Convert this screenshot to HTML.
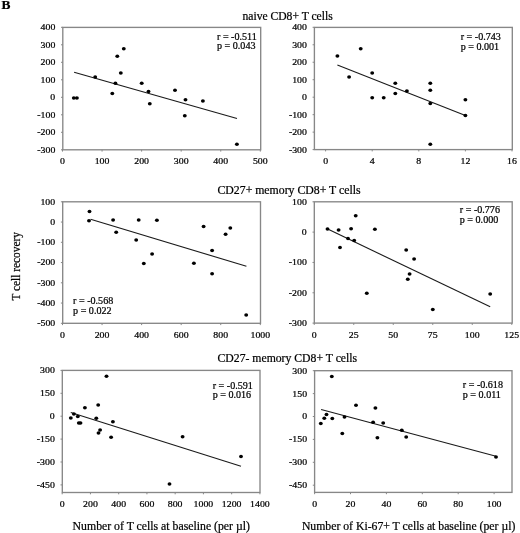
<!DOCTYPE html><html><head><meta charset="utf-8"><style>html,body{margin:0;padding:0;background:#fff;width:520px;height:533px;overflow:hidden}svg{display:block;filter:grayscale(100%)}text{font-family:"Liberation Serif",serif;fill:#000;stroke:#000;stroke-width:0.22px}</style></head><body>
<svg width="520" height="533" viewBox="0 0 520 533">
<rect width="520" height="533" fill="#fff"/>
<text x="1.5" y="9.4" font-size="13.4" font-weight="bold" stroke-width="0.32">B</text>
<text x="242.5" y="19.8" font-size="11.6" stroke-width="0.32">naive CD8+ T cells</text>
<text x="217.5" y="194" font-size="11.6" textLength="143.01" lengthAdjust="spacingAndGlyphs" stroke-width="0.32">CD27+ memory CD8+ T cells</text>
<text x="217.5" y="362" font-size="11.6" textLength="139.60" lengthAdjust="spacingAndGlyphs" stroke-width="0.32">CD27- memory CD8+ T cells</text>
<text x="0" y="0" font-size="11.6" textLength="68.59" lengthAdjust="spacingAndGlyphs" stroke-width="0.32" transform="translate(20.3,300.6) rotate(-90)">T cell recovery</text>
<text x="72.6" y="529.8" font-size="11.6" textLength="177.34" lengthAdjust="spacingAndGlyphs" stroke-width="0.32">Number of T cells at baseline (per µl)</text>
<text x="301.9" y="529.8" font-size="11.6" textLength="213.44" lengthAdjust="spacingAndGlyphs" stroke-width="0.32">Number of Ki-67+ T cells at baseline (per µl)</text>
<rect x="62.8" y="27.4" width="197.9" height="122.4" fill="none" stroke="#878787" stroke-width="1.35"/>
<line x1="61" y1="27.3" x2="62.8" y2="27.3" stroke="#878787" stroke-width="1"/>
<text x="55.3" y="30.2" font-size="9.0" textLength="14.72" lengthAdjust="spacingAndGlyphs" text-anchor="end" stroke-width="0.24">400</text>
<line x1="61" y1="44.8" x2="62.8" y2="44.8" stroke="#878787" stroke-width="1"/>
<text x="55.3" y="47.7" font-size="9.0" textLength="14.72" lengthAdjust="spacingAndGlyphs" text-anchor="end" stroke-width="0.24">300</text>
<line x1="61" y1="62.3" x2="62.8" y2="62.3" stroke="#878787" stroke-width="1"/>
<text x="55.3" y="65.2" font-size="9.0" textLength="14.72" lengthAdjust="spacingAndGlyphs" text-anchor="end" stroke-width="0.24">200</text>
<line x1="61" y1="79.8" x2="62.8" y2="79.8" stroke="#878787" stroke-width="1"/>
<text x="55.3" y="82.7" font-size="9.0" textLength="14.72" lengthAdjust="spacingAndGlyphs" text-anchor="end" stroke-width="0.24">100</text>
<line x1="61" y1="97.3" x2="62.8" y2="97.3" stroke="#878787" stroke-width="1"/>
<text x="55.3" y="100.2" font-size="9.0" textLength="4.91" lengthAdjust="spacingAndGlyphs" text-anchor="end" stroke-width="0.24">0</text>
<line x1="61" y1="114.8" x2="62.8" y2="114.8" stroke="#878787" stroke-width="1"/>
<text x="55.3" y="117.7" font-size="9.0" textLength="17.98" lengthAdjust="spacingAndGlyphs" text-anchor="end" stroke-width="0.24">-100</text>
<line x1="61" y1="132.3" x2="62.8" y2="132.3" stroke="#878787" stroke-width="1"/>
<text x="55.3" y="135.2" font-size="9.0" textLength="17.98" lengthAdjust="spacingAndGlyphs" text-anchor="end" stroke-width="0.24">-200</text>
<line x1="61" y1="149.8" x2="62.8" y2="149.8" stroke="#878787" stroke-width="1"/>
<text x="55.3" y="152.7" font-size="9.0" textLength="17.98" lengthAdjust="spacingAndGlyphs" text-anchor="end" stroke-width="0.24">-300</text>
<line x1="62.5" y1="149.8" x2="62.5" y2="151.6" stroke="#878787" stroke-width="1"/>
<text x="62.5" y="164.4" font-size="9.0" textLength="4.91" lengthAdjust="spacingAndGlyphs" text-anchor="middle" stroke-width="0.24">0</text>
<line x1="102.06" y1="149.8" x2="102.06" y2="151.6" stroke="#878787" stroke-width="1"/>
<text x="102.06" y="164.4" font-size="9.0" textLength="14.72" lengthAdjust="spacingAndGlyphs" text-anchor="middle" stroke-width="0.24">100</text>
<line x1="141.62" y1="149.8" x2="141.62" y2="151.6" stroke="#878787" stroke-width="1"/>
<text x="141.62" y="164.4" font-size="9.0" textLength="14.72" lengthAdjust="spacingAndGlyphs" text-anchor="middle" stroke-width="0.24">200</text>
<line x1="181.18" y1="149.8" x2="181.18" y2="151.6" stroke="#878787" stroke-width="1"/>
<text x="181.18" y="164.4" font-size="9.0" textLength="14.72" lengthAdjust="spacingAndGlyphs" text-anchor="middle" stroke-width="0.24">300</text>
<line x1="220.74" y1="149.8" x2="220.74" y2="151.6" stroke="#878787" stroke-width="1"/>
<text x="220.74" y="164.4" font-size="9.0" textLength="14.72" lengthAdjust="spacingAndGlyphs" text-anchor="middle" stroke-width="0.24">400</text>
<line x1="260.3" y1="149.8" x2="260.3" y2="151.6" stroke="#878787" stroke-width="1"/>
<text x="260.3" y="164.4" font-size="9.0" textLength="14.72" lengthAdjust="spacingAndGlyphs" text-anchor="middle" stroke-width="0.24">500</text>
<line x1="74.1" y1="72.2" x2="237" y2="118.5" stroke="#1a1a1a" stroke-width="1.1"/>
<ellipse cx="73.8" cy="98" rx="1.95" ry="1.75" fill="#000"/>
<ellipse cx="76.9" cy="98" rx="1.95" ry="1.75" fill="#000"/>
<ellipse cx="95.2" cy="77" rx="1.95" ry="1.75" fill="#000"/>
<ellipse cx="112.3" cy="93.5" rx="1.95" ry="1.75" fill="#000"/>
<ellipse cx="115.4" cy="83.3" rx="1.95" ry="1.75" fill="#000"/>
<ellipse cx="117.3" cy="56.2" rx="1.95" ry="1.75" fill="#000"/>
<ellipse cx="120.8" cy="73.1" rx="1.95" ry="1.75" fill="#000"/>
<ellipse cx="123.8" cy="48.8" rx="1.95" ry="1.75" fill="#000"/>
<ellipse cx="141.7" cy="83.3" rx="1.95" ry="1.75" fill="#000"/>
<ellipse cx="148.5" cy="91.5" rx="1.95" ry="1.75" fill="#000"/>
<ellipse cx="149.8" cy="103.8" rx="1.95" ry="1.75" fill="#000"/>
<ellipse cx="175" cy="90.3" rx="1.95" ry="1.75" fill="#000"/>
<ellipse cx="185.5" cy="99.8" rx="1.95" ry="1.75" fill="#000"/>
<ellipse cx="184.8" cy="115.8" rx="1.95" ry="1.75" fill="#000"/>
<ellipse cx="202.9" cy="101" rx="1.95" ry="1.75" fill="#000"/>
<ellipse cx="236.9" cy="144.3" rx="1.95" ry="1.75" fill="#000"/>
<text x="217" y="39.7" font-size="9.7" textLength="39.78" lengthAdjust="spacingAndGlyphs" stroke-width="0.24">r = -0.511</text>
<text x="217" y="49.3" font-size="9.7" textLength="38.48" lengthAdjust="spacingAndGlyphs" stroke-width="0.24">p = 0.043</text>
<rect x="314.4" y="27.4" width="197.9" height="122.2" fill="none" stroke="#878787" stroke-width="1.35"/>
<line x1="312.6" y1="27.3" x2="314.4" y2="27.3" stroke="#878787" stroke-width="1"/>
<text x="306.9" y="30.2" font-size="9.0" textLength="14.72" lengthAdjust="spacingAndGlyphs" text-anchor="end" stroke-width="0.24">400</text>
<line x1="312.6" y1="44.77" x2="314.4" y2="44.77" stroke="#878787" stroke-width="1"/>
<text x="306.9" y="47.67" font-size="9.0" textLength="14.72" lengthAdjust="spacingAndGlyphs" text-anchor="end" stroke-width="0.24">300</text>
<line x1="312.6" y1="62.24" x2="314.4" y2="62.24" stroke="#878787" stroke-width="1"/>
<text x="306.9" y="65.14" font-size="9.0" textLength="14.72" lengthAdjust="spacingAndGlyphs" text-anchor="end" stroke-width="0.24">200</text>
<line x1="312.6" y1="79.71" x2="314.4" y2="79.71" stroke="#878787" stroke-width="1"/>
<text x="306.9" y="82.61" font-size="9.0" textLength="14.72" lengthAdjust="spacingAndGlyphs" text-anchor="end" stroke-width="0.24">100</text>
<line x1="312.6" y1="97.19" x2="314.4" y2="97.19" stroke="#878787" stroke-width="1"/>
<text x="306.9" y="100.09" font-size="9.0" textLength="4.91" lengthAdjust="spacingAndGlyphs" text-anchor="end" stroke-width="0.24">0</text>
<line x1="312.6" y1="114.66" x2="314.4" y2="114.66" stroke="#878787" stroke-width="1"/>
<text x="306.9" y="117.56" font-size="9.0" textLength="17.98" lengthAdjust="spacingAndGlyphs" text-anchor="end" stroke-width="0.24">-100</text>
<line x1="312.6" y1="132.13" x2="314.4" y2="132.13" stroke="#878787" stroke-width="1"/>
<text x="306.9" y="135.03" font-size="9.0" textLength="17.98" lengthAdjust="spacingAndGlyphs" text-anchor="end" stroke-width="0.24">-200</text>
<line x1="312.6" y1="149.6" x2="314.4" y2="149.6" stroke="#878787" stroke-width="1"/>
<text x="306.9" y="152.5" font-size="9.0" textLength="17.98" lengthAdjust="spacingAndGlyphs" text-anchor="end" stroke-width="0.24">-300</text>
<line x1="325.6" y1="149.6" x2="325.6" y2="151.4" stroke="#878787" stroke-width="1"/>
<text x="325.6" y="164.2" font-size="9.0" textLength="4.91" lengthAdjust="spacingAndGlyphs" text-anchor="middle" stroke-width="0.24">0</text>
<line x1="372.2" y1="149.6" x2="372.2" y2="151.4" stroke="#878787" stroke-width="1"/>
<text x="372.2" y="164.2" font-size="9.0" textLength="4.91" lengthAdjust="spacingAndGlyphs" text-anchor="middle" stroke-width="0.24">4</text>
<line x1="418.8" y1="149.6" x2="418.8" y2="151.4" stroke="#878787" stroke-width="1"/>
<text x="418.8" y="164.2" font-size="9.0" textLength="4.91" lengthAdjust="spacingAndGlyphs" text-anchor="middle" stroke-width="0.24">8</text>
<line x1="465.4" y1="149.6" x2="465.4" y2="151.4" stroke="#878787" stroke-width="1"/>
<text x="465.4" y="164.2" font-size="9.0" textLength="9.81" lengthAdjust="spacingAndGlyphs" text-anchor="middle" stroke-width="0.24">12</text>
<line x1="512" y1="149.6" x2="512" y2="151.4" stroke="#878787" stroke-width="1"/>
<text x="512" y="164.2" font-size="9.0" textLength="9.81" lengthAdjust="spacingAndGlyphs" text-anchor="middle" stroke-width="0.24">16</text>
<line x1="337.4" y1="65" x2="465.4" y2="115.5" stroke="#1a1a1a" stroke-width="1.1"/>
<ellipse cx="337.4" cy="56" rx="1.95" ry="1.75" fill="#000"/>
<ellipse cx="349.1" cy="76.9" rx="1.95" ry="1.75" fill="#000"/>
<ellipse cx="360.7" cy="48.7" rx="1.95" ry="1.75" fill="#000"/>
<ellipse cx="372.2" cy="73.1" rx="1.95" ry="1.75" fill="#000"/>
<ellipse cx="372.2" cy="97.7" rx="1.95" ry="1.75" fill="#000"/>
<ellipse cx="383.7" cy="97.7" rx="1.95" ry="1.75" fill="#000"/>
<ellipse cx="395.3" cy="83.3" rx="1.95" ry="1.75" fill="#000"/>
<ellipse cx="395.3" cy="93.5" rx="1.95" ry="1.75" fill="#000"/>
<ellipse cx="406.9" cy="91.1" rx="1.95" ry="1.75" fill="#000"/>
<ellipse cx="430.3" cy="83.2" rx="1.95" ry="1.75" fill="#000"/>
<ellipse cx="430.3" cy="90.3" rx="1.95" ry="1.75" fill="#000"/>
<ellipse cx="430.3" cy="103.5" rx="1.95" ry="1.75" fill="#000"/>
<ellipse cx="430.3" cy="144.3" rx="1.95" ry="1.75" fill="#000"/>
<ellipse cx="465.4" cy="99.7" rx="1.95" ry="1.75" fill="#000"/>
<ellipse cx="465.4" cy="115.5" rx="1.95" ry="1.75" fill="#000"/>
<text x="460.7" y="39.9" font-size="9.7" textLength="40.15" lengthAdjust="spacingAndGlyphs" stroke-width="0.24">r = -0.743</text>
<text x="460.7" y="50.2" font-size="9.7" textLength="38.48" lengthAdjust="spacingAndGlyphs" stroke-width="0.24">p = 0.001</text>
<rect x="62.7" y="201.8" width="197.8" height="121.5" fill="none" stroke="#878787" stroke-width="1.35"/>
<line x1="60.9" y1="201.8" x2="62.7" y2="201.8" stroke="#878787" stroke-width="1"/>
<text x="55.2" y="204.7" font-size="9.0" textLength="14.72" lengthAdjust="spacingAndGlyphs" text-anchor="end" stroke-width="0.24">100</text>
<line x1="60.9" y1="222.05" x2="62.7" y2="222.05" stroke="#878787" stroke-width="1"/>
<text x="55.2" y="224.95" font-size="9.0" textLength="4.91" lengthAdjust="spacingAndGlyphs" text-anchor="end" stroke-width="0.24">0</text>
<line x1="60.9" y1="242.3" x2="62.7" y2="242.3" stroke="#878787" stroke-width="1"/>
<text x="55.2" y="245.2" font-size="9.0" textLength="17.98" lengthAdjust="spacingAndGlyphs" text-anchor="end" stroke-width="0.24">-100</text>
<line x1="60.9" y1="262.55" x2="62.7" y2="262.55" stroke="#878787" stroke-width="1"/>
<text x="55.2" y="265.45" font-size="9.0" textLength="17.98" lengthAdjust="spacingAndGlyphs" text-anchor="end" stroke-width="0.24">-200</text>
<line x1="60.9" y1="282.8" x2="62.7" y2="282.8" stroke="#878787" stroke-width="1"/>
<text x="55.2" y="285.7" font-size="9.0" textLength="17.98" lengthAdjust="spacingAndGlyphs" text-anchor="end" stroke-width="0.24">-300</text>
<line x1="60.9" y1="303.05" x2="62.7" y2="303.05" stroke="#878787" stroke-width="1"/>
<text x="55.2" y="305.95" font-size="9.0" textLength="17.98" lengthAdjust="spacingAndGlyphs" text-anchor="end" stroke-width="0.24">-400</text>
<line x1="60.9" y1="323.3" x2="62.7" y2="323.3" stroke="#878787" stroke-width="1"/>
<text x="55.2" y="326.2" font-size="9.0" textLength="17.98" lengthAdjust="spacingAndGlyphs" text-anchor="end" stroke-width="0.24">-500</text>
<line x1="62.5" y1="323.3" x2="62.5" y2="325.1" stroke="#878787" stroke-width="1"/>
<text x="62.5" y="337.9" font-size="9.0" textLength="4.91" lengthAdjust="spacingAndGlyphs" text-anchor="middle" stroke-width="0.24">0</text>
<line x1="102.06" y1="323.3" x2="102.06" y2="325.1" stroke="#878787" stroke-width="1"/>
<text x="102.06" y="337.9" font-size="9.0" textLength="14.72" lengthAdjust="spacingAndGlyphs" text-anchor="middle" stroke-width="0.24">200</text>
<line x1="141.62" y1="323.3" x2="141.62" y2="325.1" stroke="#878787" stroke-width="1"/>
<text x="141.62" y="337.9" font-size="9.0" textLength="14.72" lengthAdjust="spacingAndGlyphs" text-anchor="middle" stroke-width="0.24">400</text>
<line x1="181.18" y1="323.3" x2="181.18" y2="325.1" stroke="#878787" stroke-width="1"/>
<text x="181.18" y="337.9" font-size="9.0" textLength="14.72" lengthAdjust="spacingAndGlyphs" text-anchor="middle" stroke-width="0.24">600</text>
<line x1="220.74" y1="323.3" x2="220.74" y2="325.1" stroke="#878787" stroke-width="1"/>
<text x="220.74" y="337.9" font-size="9.0" textLength="14.72" lengthAdjust="spacingAndGlyphs" text-anchor="middle" stroke-width="0.24">800</text>
<line x1="260.3" y1="323.3" x2="260.3" y2="325.1" stroke="#878787" stroke-width="1"/>
<text x="260.3" y="337.9" font-size="9.0" textLength="19.62" lengthAdjust="spacingAndGlyphs" text-anchor="middle" stroke-width="0.24">1000</text>
<line x1="90.6" y1="219.2" x2="246.4" y2="266.3" stroke="#1a1a1a" stroke-width="1.1"/>
<ellipse cx="89.5" cy="211.5" rx="1.95" ry="1.75" fill="#000"/>
<ellipse cx="89" cy="220.8" rx="1.95" ry="1.75" fill="#000"/>
<ellipse cx="113.1" cy="220" rx="1.95" ry="1.75" fill="#000"/>
<ellipse cx="116.2" cy="232.3" rx="1.95" ry="1.75" fill="#000"/>
<ellipse cx="136.2" cy="240" rx="1.95" ry="1.75" fill="#000"/>
<ellipse cx="138.7" cy="220" rx="1.95" ry="1.75" fill="#000"/>
<ellipse cx="143.8" cy="263.5" rx="1.95" ry="1.75" fill="#000"/>
<ellipse cx="152.1" cy="254" rx="1.95" ry="1.75" fill="#000"/>
<ellipse cx="156.9" cy="220.2" rx="1.95" ry="1.75" fill="#000"/>
<ellipse cx="193.9" cy="263.2" rx="1.95" ry="1.75" fill="#000"/>
<ellipse cx="203.6" cy="226.5" rx="1.95" ry="1.75" fill="#000"/>
<ellipse cx="212.1" cy="250.4" rx="1.95" ry="1.75" fill="#000"/>
<ellipse cx="212.1" cy="273.8" rx="1.95" ry="1.75" fill="#000"/>
<ellipse cx="225.6" cy="234.3" rx="1.95" ry="1.75" fill="#000"/>
<ellipse cx="230.3" cy="227.9" rx="1.95" ry="1.75" fill="#000"/>
<ellipse cx="246.2" cy="315.1" rx="1.95" ry="1.75" fill="#000"/>
<text x="73.1" y="303.9" font-size="9.7" textLength="40.15" lengthAdjust="spacingAndGlyphs" stroke-width="0.24">r = -0.568</text>
<text x="73.1" y="314.3" font-size="9.7" textLength="38.48" lengthAdjust="spacingAndGlyphs" stroke-width="0.24">p = 0.022</text>
<rect x="314.3" y="201.8" width="197.9" height="121.3" fill="none" stroke="#878787" stroke-width="1.35"/>
<line x1="312.5" y1="201.8" x2="314.3" y2="201.8" stroke="#878787" stroke-width="1"/>
<text x="306.8" y="204.7" font-size="9.0" textLength="14.72" lengthAdjust="spacingAndGlyphs" text-anchor="end" stroke-width="0.24">100</text>
<line x1="312.5" y1="232.12" x2="314.3" y2="232.12" stroke="#878787" stroke-width="1"/>
<text x="306.8" y="235.03" font-size="9.0" textLength="4.91" lengthAdjust="spacingAndGlyphs" text-anchor="end" stroke-width="0.24">0</text>
<line x1="312.5" y1="262.45" x2="314.3" y2="262.45" stroke="#878787" stroke-width="1"/>
<text x="306.8" y="265.35" font-size="9.0" textLength="17.98" lengthAdjust="spacingAndGlyphs" text-anchor="end" stroke-width="0.24">-100</text>
<line x1="312.5" y1="292.78" x2="314.3" y2="292.78" stroke="#878787" stroke-width="1"/>
<text x="306.8" y="295.68" font-size="9.0" textLength="17.98" lengthAdjust="spacingAndGlyphs" text-anchor="end" stroke-width="0.24">-200</text>
<line x1="312.5" y1="323.1" x2="314.3" y2="323.1" stroke="#878787" stroke-width="1"/>
<text x="306.8" y="326" font-size="9.0" textLength="17.98" lengthAdjust="spacingAndGlyphs" text-anchor="end" stroke-width="0.24">-300</text>
<line x1="314.25" y1="323.1" x2="314.25" y2="324.9" stroke="#878787" stroke-width="1"/>
<text x="314.25" y="337.7" font-size="9.0" textLength="4.91" lengthAdjust="spacingAndGlyphs" text-anchor="middle" stroke-width="0.24">0</text>
<line x1="353.75" y1="323.1" x2="353.75" y2="324.9" stroke="#878787" stroke-width="1"/>
<text x="353.75" y="337.7" font-size="9.0" textLength="9.81" lengthAdjust="spacingAndGlyphs" text-anchor="middle" stroke-width="0.24">25</text>
<line x1="393.25" y1="323.1" x2="393.25" y2="324.9" stroke="#878787" stroke-width="1"/>
<text x="393.25" y="337.7" font-size="9.0" textLength="9.81" lengthAdjust="spacingAndGlyphs" text-anchor="middle" stroke-width="0.24">50</text>
<line x1="432.75" y1="323.1" x2="432.75" y2="324.9" stroke="#878787" stroke-width="1"/>
<text x="432.75" y="337.7" font-size="9.0" textLength="9.81" lengthAdjust="spacingAndGlyphs" text-anchor="middle" stroke-width="0.24">75</text>
<line x1="472.25" y1="323.1" x2="472.25" y2="324.9" stroke="#878787" stroke-width="1"/>
<text x="472.25" y="337.7" font-size="9.0" textLength="14.72" lengthAdjust="spacingAndGlyphs" text-anchor="middle" stroke-width="0.24">100</text>
<line x1="511.75" y1="323.1" x2="511.75" y2="324.9" stroke="#878787" stroke-width="1"/>
<text x="511.75" y="337.7" font-size="9.0" textLength="14.72" lengthAdjust="spacingAndGlyphs" text-anchor="middle" stroke-width="0.24">125</text>
<line x1="327.7" y1="229.1" x2="490.2" y2="306.8" stroke="#1a1a1a" stroke-width="1.1"/>
<ellipse cx="327.5" cy="229.1" rx="1.95" ry="1.75" fill="#000"/>
<ellipse cx="338.6" cy="230" rx="1.95" ry="1.75" fill="#000"/>
<ellipse cx="351.1" cy="228.8" rx="1.95" ry="1.75" fill="#000"/>
<ellipse cx="355.7" cy="215.8" rx="1.95" ry="1.75" fill="#000"/>
<ellipse cx="348" cy="238.5" rx="1.95" ry="1.75" fill="#000"/>
<ellipse cx="354.2" cy="240.5" rx="1.95" ry="1.75" fill="#000"/>
<ellipse cx="340" cy="247.6" rx="1.95" ry="1.75" fill="#000"/>
<ellipse cx="374.9" cy="229.3" rx="1.95" ry="1.75" fill="#000"/>
<ellipse cx="406.2" cy="250" rx="1.95" ry="1.75" fill="#000"/>
<ellipse cx="414.1" cy="259" rx="1.95" ry="1.75" fill="#000"/>
<ellipse cx="409.6" cy="273.9" rx="1.95" ry="1.75" fill="#000"/>
<ellipse cx="407.8" cy="279.3" rx="1.95" ry="1.75" fill="#000"/>
<ellipse cx="366.8" cy="293.2" rx="1.95" ry="1.75" fill="#000"/>
<ellipse cx="432.8" cy="309.4" rx="1.95" ry="1.75" fill="#000"/>
<ellipse cx="490.2" cy="294.1" rx="1.95" ry="1.75" fill="#000"/>
<text x="459.8" y="212.6" font-size="9.7" textLength="40.15" lengthAdjust="spacingAndGlyphs" stroke-width="0.24">r = -0.776</text>
<text x="459.8" y="223.3" font-size="9.7" textLength="38.48" lengthAdjust="spacingAndGlyphs" stroke-width="0.24">p = 0.000</text>
<rect x="62.3" y="370.4" width="197.7" height="122.1" fill="none" stroke="#878787" stroke-width="1.35"/>
<line x1="60.5" y1="370.4" x2="62.3" y2="370.4" stroke="#878787" stroke-width="1"/>
<text x="54.8" y="373.3" font-size="9.0" textLength="14.72" lengthAdjust="spacingAndGlyphs" text-anchor="end" stroke-width="0.24">300</text>
<line x1="60.5" y1="393.3" x2="62.3" y2="393.3" stroke="#878787" stroke-width="1"/>
<text x="54.8" y="396.2" font-size="9.0" textLength="14.72" lengthAdjust="spacingAndGlyphs" text-anchor="end" stroke-width="0.24">150</text>
<line x1="60.5" y1="416.2" x2="62.3" y2="416.2" stroke="#878787" stroke-width="1"/>
<text x="54.8" y="419.1" font-size="9.0" textLength="4.91" lengthAdjust="spacingAndGlyphs" text-anchor="end" stroke-width="0.24">0</text>
<line x1="60.5" y1="439.1" x2="62.3" y2="439.1" stroke="#878787" stroke-width="1"/>
<text x="54.8" y="442" font-size="9.0" textLength="17.98" lengthAdjust="spacingAndGlyphs" text-anchor="end" stroke-width="0.24">-150</text>
<line x1="60.5" y1="462" x2="62.3" y2="462" stroke="#878787" stroke-width="1"/>
<text x="54.8" y="464.9" font-size="9.0" textLength="17.98" lengthAdjust="spacingAndGlyphs" text-anchor="end" stroke-width="0.24">-300</text>
<line x1="60.5" y1="484.9" x2="62.3" y2="484.9" stroke="#878787" stroke-width="1"/>
<text x="54.8" y="487.8" font-size="9.0" textLength="17.98" lengthAdjust="spacingAndGlyphs" text-anchor="end" stroke-width="0.24">-450</text>
<line x1="62.2" y1="492.5" x2="62.2" y2="494.3" stroke="#878787" stroke-width="1"/>
<text x="62.2" y="507.1" font-size="9.0" textLength="4.91" lengthAdjust="spacingAndGlyphs" text-anchor="middle" stroke-width="0.24">0</text>
<line x1="90.44" y1="492.5" x2="90.44" y2="494.3" stroke="#878787" stroke-width="1"/>
<text x="90.44" y="507.1" font-size="9.0" textLength="14.72" lengthAdjust="spacingAndGlyphs" text-anchor="middle" stroke-width="0.24">200</text>
<line x1="118.69" y1="492.5" x2="118.69" y2="494.3" stroke="#878787" stroke-width="1"/>
<text x="118.69" y="507.1" font-size="9.0" textLength="14.72" lengthAdjust="spacingAndGlyphs" text-anchor="middle" stroke-width="0.24">400</text>
<line x1="146.93" y1="492.5" x2="146.93" y2="494.3" stroke="#878787" stroke-width="1"/>
<text x="146.93" y="507.1" font-size="9.0" textLength="14.72" lengthAdjust="spacingAndGlyphs" text-anchor="middle" stroke-width="0.24">600</text>
<line x1="175.17" y1="492.5" x2="175.17" y2="494.3" stroke="#878787" stroke-width="1"/>
<text x="175.17" y="507.1" font-size="9.0" textLength="14.72" lengthAdjust="spacingAndGlyphs" text-anchor="middle" stroke-width="0.24">800</text>
<line x1="203.41" y1="492.5" x2="203.41" y2="494.3" stroke="#878787" stroke-width="1"/>
<text x="203.41" y="507.1" font-size="9.0" textLength="19.62" lengthAdjust="spacingAndGlyphs" text-anchor="middle" stroke-width="0.24">1000</text>
<line x1="231.66" y1="492.5" x2="231.66" y2="494.3" stroke="#878787" stroke-width="1"/>
<text x="231.66" y="507.1" font-size="9.0" textLength="19.62" lengthAdjust="spacingAndGlyphs" text-anchor="middle" stroke-width="0.24">1200</text>
<line x1="259.9" y1="492.5" x2="259.9" y2="494.3" stroke="#878787" stroke-width="1"/>
<text x="259.9" y="507.1" font-size="9.0" textLength="19.62" lengthAdjust="spacingAndGlyphs" text-anchor="middle" stroke-width="0.24">1400</text>
<line x1="70.8" y1="412.4" x2="241" y2="466.2" stroke="#1a1a1a" stroke-width="1.1"/>
<ellipse cx="70.8" cy="417.9" rx="1.95" ry="1.75" fill="#000"/>
<ellipse cx="73.9" cy="414.1" rx="1.95" ry="1.75" fill="#000"/>
<ellipse cx="77.8" cy="416.4" rx="1.95" ry="1.75" fill="#000"/>
<ellipse cx="78.8" cy="423.1" rx="1.95" ry="1.75" fill="#000"/>
<ellipse cx="80.5" cy="422.9" rx="1.95" ry="1.75" fill="#000"/>
<ellipse cx="84.9" cy="407.8" rx="1.95" ry="1.75" fill="#000"/>
<ellipse cx="96.3" cy="418.2" rx="1.95" ry="1.75" fill="#000"/>
<ellipse cx="98.2" cy="405" rx="1.95" ry="1.75" fill="#000"/>
<ellipse cx="106.5" cy="376.2" rx="1.95" ry="1.75" fill="#000"/>
<ellipse cx="112.9" cy="421.8" rx="1.95" ry="1.75" fill="#000"/>
<ellipse cx="100.1" cy="429.9" rx="1.95" ry="1.75" fill="#000"/>
<ellipse cx="98.5" cy="433" rx="1.95" ry="1.75" fill="#000"/>
<ellipse cx="111.1" cy="437.3" rx="1.95" ry="1.75" fill="#000"/>
<ellipse cx="182.6" cy="436.7" rx="1.95" ry="1.75" fill="#000"/>
<ellipse cx="169.5" cy="484" rx="1.95" ry="1.75" fill="#000"/>
<ellipse cx="241" cy="456.6" rx="1.95" ry="1.75" fill="#000"/>
<text x="212.7" y="388.9" font-size="9.7" textLength="40.15" lengthAdjust="spacingAndGlyphs" stroke-width="0.24">r = -0.591</text>
<text x="212.7" y="398.4" font-size="9.7" textLength="38.48" lengthAdjust="spacingAndGlyphs" stroke-width="0.24">p = 0.016</text>
<rect x="314.6" y="370.7" width="197.4" height="121.7" fill="none" stroke="#878787" stroke-width="1.35"/>
<line x1="312.8" y1="370.7" x2="314.6" y2="370.7" stroke="#878787" stroke-width="1"/>
<text x="307.1" y="373.6" font-size="9.0" textLength="14.72" lengthAdjust="spacingAndGlyphs" text-anchor="end" stroke-width="0.24">300</text>
<line x1="312.8" y1="393.6" x2="314.6" y2="393.6" stroke="#878787" stroke-width="1"/>
<text x="307.1" y="396.5" font-size="9.0" textLength="14.72" lengthAdjust="spacingAndGlyphs" text-anchor="end" stroke-width="0.24">150</text>
<line x1="312.8" y1="416.5" x2="314.6" y2="416.5" stroke="#878787" stroke-width="1"/>
<text x="307.1" y="419.4" font-size="9.0" textLength="4.91" lengthAdjust="spacingAndGlyphs" text-anchor="end" stroke-width="0.24">0</text>
<line x1="312.8" y1="439.4" x2="314.6" y2="439.4" stroke="#878787" stroke-width="1"/>
<text x="307.1" y="442.3" font-size="9.0" textLength="17.98" lengthAdjust="spacingAndGlyphs" text-anchor="end" stroke-width="0.24">-150</text>
<line x1="312.8" y1="462.3" x2="314.6" y2="462.3" stroke="#878787" stroke-width="1"/>
<text x="307.1" y="465.2" font-size="9.0" textLength="17.98" lengthAdjust="spacingAndGlyphs" text-anchor="end" stroke-width="0.24">-300</text>
<line x1="312.8" y1="485.2" x2="314.6" y2="485.2" stroke="#878787" stroke-width="1"/>
<text x="307.1" y="488.1" font-size="9.0" textLength="17.98" lengthAdjust="spacingAndGlyphs" text-anchor="end" stroke-width="0.24">-450</text>
<line x1="314.6" y1="492.4" x2="314.6" y2="494.2" stroke="#878787" stroke-width="1"/>
<text x="314.6" y="507" font-size="9.0" textLength="4.91" lengthAdjust="spacingAndGlyphs" text-anchor="middle" stroke-width="0.24">0</text>
<line x1="350.5" y1="492.4" x2="350.5" y2="494.2" stroke="#878787" stroke-width="1"/>
<text x="350.5" y="507" font-size="9.0" textLength="9.81" lengthAdjust="spacingAndGlyphs" text-anchor="middle" stroke-width="0.24">20</text>
<line x1="386.4" y1="492.4" x2="386.4" y2="494.2" stroke="#878787" stroke-width="1"/>
<text x="386.4" y="507" font-size="9.0" textLength="9.81" lengthAdjust="spacingAndGlyphs" text-anchor="middle" stroke-width="0.24">40</text>
<line x1="422.3" y1="492.4" x2="422.3" y2="494.2" stroke="#878787" stroke-width="1"/>
<text x="422.3" y="507" font-size="9.0" textLength="9.81" lengthAdjust="spacingAndGlyphs" text-anchor="middle" stroke-width="0.24">60</text>
<line x1="458.2" y1="492.4" x2="458.2" y2="494.2" stroke="#878787" stroke-width="1"/>
<text x="458.2" y="507" font-size="9.0" textLength="9.81" lengthAdjust="spacingAndGlyphs" text-anchor="middle" stroke-width="0.24">80</text>
<line x1="494.1" y1="492.4" x2="494.1" y2="494.2" stroke="#878787" stroke-width="1"/>
<text x="494.1" y="507" font-size="9.0" textLength="14.72" lengthAdjust="spacingAndGlyphs" text-anchor="middle" stroke-width="0.24">100</text>
<line x1="321.1" y1="409.5" x2="496" y2="456.3" stroke="#1a1a1a" stroke-width="1.1"/>
<ellipse cx="320.8" cy="423.4" rx="1.95" ry="1.75" fill="#000"/>
<ellipse cx="324.3" cy="418.3" rx="1.95" ry="1.75" fill="#000"/>
<ellipse cx="326.5" cy="414.6" rx="1.95" ry="1.75" fill="#000"/>
<ellipse cx="331.8" cy="376.5" rx="1.95" ry="1.75" fill="#000"/>
<ellipse cx="332.3" cy="418.5" rx="1.95" ry="1.75" fill="#000"/>
<ellipse cx="342.3" cy="433.4" rx="1.95" ry="1.75" fill="#000"/>
<ellipse cx="344.5" cy="417.1" rx="1.95" ry="1.75" fill="#000"/>
<ellipse cx="356" cy="405.2" rx="1.95" ry="1.75" fill="#000"/>
<ellipse cx="373.1" cy="422.2" rx="1.95" ry="1.75" fill="#000"/>
<ellipse cx="375.4" cy="408" rx="1.95" ry="1.75" fill="#000"/>
<ellipse cx="377.4" cy="437.8" rx="1.95" ry="1.75" fill="#000"/>
<ellipse cx="383.2" cy="422.9" rx="1.95" ry="1.75" fill="#000"/>
<ellipse cx="401.8" cy="430.3" rx="1.95" ry="1.75" fill="#000"/>
<ellipse cx="406.2" cy="437.1" rx="1.95" ry="1.75" fill="#000"/>
<ellipse cx="496" cy="456.9" rx="1.95" ry="1.75" fill="#000"/>
<text x="462.8" y="388.1" font-size="9.7" textLength="40.15" lengthAdjust="spacingAndGlyphs" stroke-width="0.24">r = -0.618</text>
<text x="462.8" y="398.2" font-size="9.7" textLength="38.10" lengthAdjust="spacingAndGlyphs" stroke-width="0.24">p = 0.011</text>
</svg></body></html>
